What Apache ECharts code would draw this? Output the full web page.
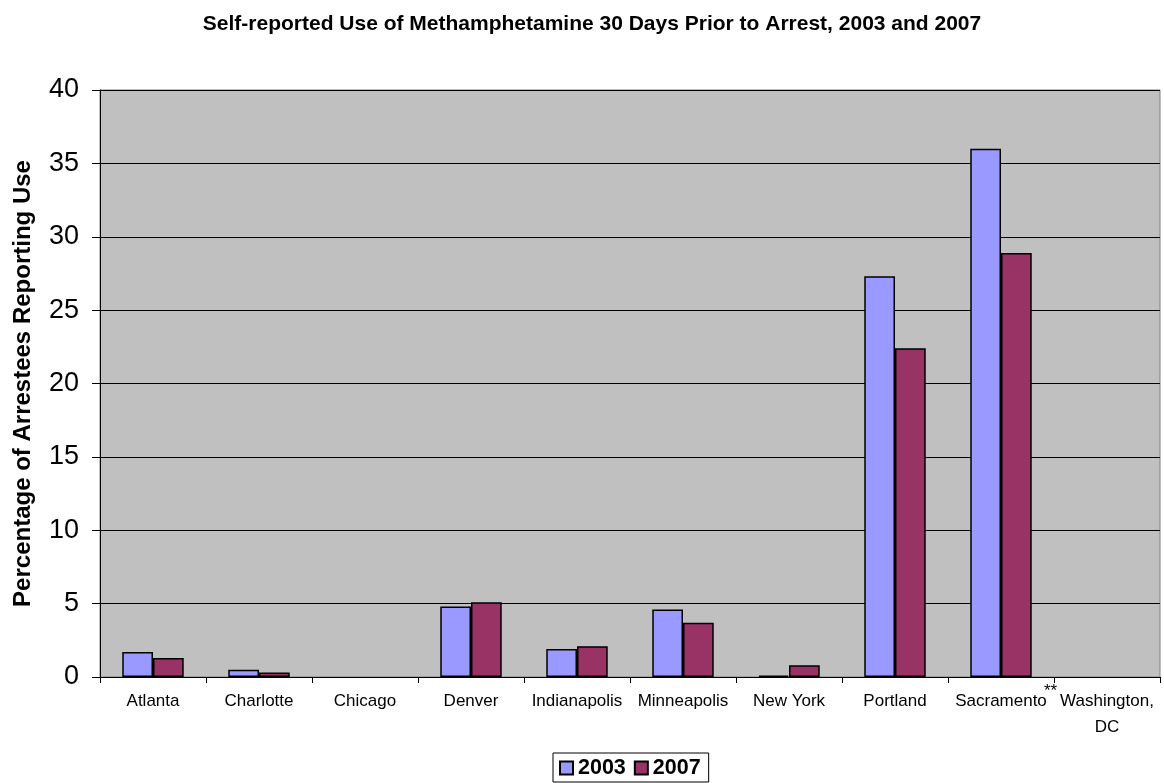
<!DOCTYPE html>
<html>
<head>
<meta charset="utf-8">
<script src="https://cdn.jsdelivr.net/npm/echarts@6/dist/echarts.min.js"></script>
<style>
html,body{margin:0;padding:0;background:#fff;}
#chart{width:1164px;height:783px;}
</style>
</head>
<body>
<div id="chart"></div>
<script>
const categories = ['Atlanta','Charlotte','Chicago','Denver','Indianapolis','Minneapolis','New York','Portland','Sacramento','Washington,\nDC'];
const values2003 = [1.7, 0.5, null, 4.8, 1.9, 4.6, 0.1, 27.3, 36.0, null];
const values2007 = [1.3, 0.3, null, 5.1, 2.1, 3.7, 0.8, 22.4, 28.9, null];
const yTicks = [0, 5, 10, 15, 20, 25, 30, 35, 40];

const chart = echarts.init(document.getElementById('chart'));
const font = 'Liberation Sans, Arial, sans-serif';
chart.setOption({
  backgroundColor: '#ffffff',
  animation: false,
  title: {
    text: 'Self-reported Use of Methamphetamine 30 Days Prior to Arrest, 2003 and 2007',
    left: 587, top: 9, textAlign: 'center',
    textStyle: { fontFamily: font, fontSize: 21, fontWeight: 'bold', color: '#000' }
  },
  legend: {
    data: ['2003', '2007'],
    left: 553, top: 753,
    itemWidth: 13, itemHeight: 13, itemGap: 8,
    icon: 'rect',
    borderColor: '#000', borderWidth: 1, padding: [4, 8, 3, 6],
    textStyle: { fontFamily: font, fontSize: 21.5, fontWeight: 'bold', color: '#000' }
  },
  grid: {
    left: 100, right: 4, top: 90, bottom: 106,
    show: true, backgroundColor: '#C0C0C0', borderColor: '#808080', borderWidth: 1
  },
  xAxis: {
    type: 'category',
    data: categories,
    axisLine: { lineStyle: { color: '#000', width: 1 } },
    axisTick: { show: true, length: 6, lineStyle: { color: '#000' } },
    axisLabel: { fontFamily: font, fontSize: 17, color: '#000', margin: 11, interval: 0, lineHeight: 26 }
  },
  yAxis: {
    type: 'value',
    min: 0, max: 40, interval: 5,
    name: 'Percentage of Arrestees Reporting Use',
    nameLocation: 'middle', nameGap: 65, nameRotate: 90,
    nameTextStyle: { fontFamily: font, fontSize: 24, fontWeight: 'bold', color: '#000' },
    axisLine: { show: true, lineStyle: { color: '#000', width: 1 } },
    axisTick: { show: true, length: 8, lineStyle: { color: '#000' } },
    axisLabel: { fontFamily: font, fontSize: 27, color: '#000', margin: 21,
      formatter: v => yTicks.includes(v) ? String(v) : '' },
    splitLine: { show: true, lineStyle: { color: '#000', width: 1 } }
  },
  series: [
    {
      name: '2003', type: 'bar', data: values2003,
      barGap: '0%', barCategoryGap: '42%',
      itemStyle: { color: '#9999FF', borderColor: '#000', borderWidth: 1.5 }
    },
    {
      name: '2007', type: 'bar', data: values2007,
      itemStyle: { color: '#993366', borderColor: '#000', borderWidth: 1.5 }
    }
  ],
  graphic: [
    { type: 'text', left: 1044, top: 683,
      style: { text: '**', fontFamily: font, fontSize: 17, fill: '#000' } }
  ]
});
</script>
</body>
</html>
